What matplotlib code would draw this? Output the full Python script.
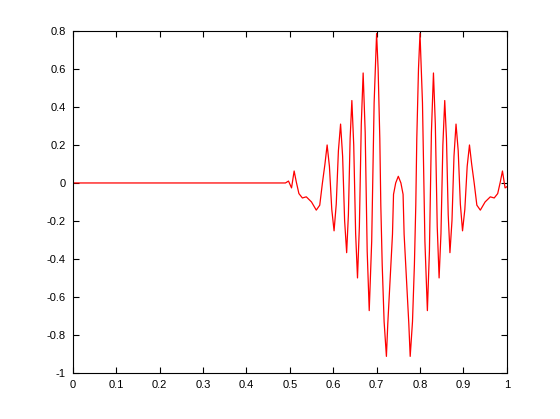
import matplotlib
matplotlib.use('Agg')
import matplotlib.pyplot as plt

# signal: flat start, small wiggle near 0.5,
# then the burst (left half, centre lobe, right half)
t = [0.0, 0.002, 0.2, 0.3, 0.49, 0.497, 0.504, 0.51, 0.515, 0.521, 0.529,
     0.538, 0.55, 0.561, 0.569, 0.575, 0.581,
     0.586, 0.5913, 0.5967, 0.602, 0.607, 0.612, 0.617, 0.6217, 0.6263,
     0.631, 0.635, 0.639, 0.643, 0.6473, 0.6517, 0.656, 0.6603, 0.6647,
     0.669, 0.6737, 0.6783, 0.683, 0.6887, 0.6943, 0.700, 0.7035, 0.7074,
     0.7097, 0.7129, 0.7173, 0.7226, 0.7258, 0.7311, 0.7366, 0.739, 0.744,
     0.75,
     0.756, 0.761, 0.7634, 0.7689, 0.7742, 0.7774, 0.7827, 0.7871, 0.7903,
     0.7926, 0.7965, 0.800, 0.8057, 0.8113, 0.817, 0.8217, 0.8263, 0.831,
     0.8353, 0.8397, 0.844, 0.8483, 0.8527, 0.857, 0.861, 0.865, 0.869,
     0.8737, 0.8783, 0.883, 0.888, 0.893, 0.898, 0.9033, 0.9087, 0.914,
     0.919, 0.925, 0.931, 0.939, 0.95, 0.962, 0.971, 0.979, 0.985, 0.990,
     0.996, 1.0]
signal = [0.01, 0.0, 0.0, 0.0, 0.0, 0.01, -0.026, 0.063, 0.005, -0.056, -0.079,
          -0.073, -0.10, -0.143, -0.117, -0.003, 0.10,
          0.20, 0.087, -0.139, -0.252, -0.112, 0.170, 0.31, 0.141, -0.198,
          -0.367, -0.167, 0.234, 0.434, 0.20, -0.267, -0.50, -0.23, 0.309,
          0.579, 0.266, -0.359, -0.672, -0.307, 0.422, 0.787, 0.60, 0.233,
          -0.117, -0.43, -0.73, -0.913, -0.74, -0.51, -0.27, -0.06, 0.0,
          0.035,
          0.0, -0.06, -0.27, -0.51, -0.74, -0.913, -0.73, -0.43, -0.117,
          0.233, 0.60, 0.787, 0.422, -0.307, -0.672, -0.359, 0.266, 0.579,
          0.309, -0.23, -0.50, -0.267, 0.20, 0.434, 0.234, -0.167, -0.367,
          -0.198, 0.141, 0.31, 0.170, -0.112, -0.252, -0.139, 0.087, 0.20,
          0.10, -0.003, -0.117, -0.143, -0.10, -0.073, -0.079, -0.056, 0.005, 0.063,
          -0.026, -0.02]

xticks = [0, 0.1, 0.2, 0.3, 0.4, 0.5, 0.6, 0.7, 0.8, 0.9, 1]
xlabels = ['0', '0.1', '0.2', '0.3', '0.4', '0.5', '0.6', '0.7', '0.8', '0.9', '1']
yticks = [-1, -0.8, -0.6, -0.4, -0.2, 0, 0.2, 0.4, 0.6, 0.8]
ylabels = ['-1', '-0.8', '-0.6', '-0.4', '-0.2', '0', '0.2', '0.4', '0.6', '0.8']

plt.rcParams['font.family'] = ['Liberation Sans', 'DejaVu Sans']

fig = plt.figure(figsize=(5.6, 4.19), dpi=100)
ax = fig.add_axes([0.130, 0.110, 0.775, 0.816])
ax.plot(t, signal, color='red', linewidth=0.9)

ax.set_xlim(0, 1)
ax.set_ylim(-1, 0.8)
ax.set_xticks(xticks)
ax.set_xticklabels(xlabels)
ax.set_yticks(yticks)
ax.set_yticklabels(ylabels)
ax.tick_params(direction='in', length=4, width=0.8, labelsize=8,
               top=True, right=True, pad=5)
for s in ax.spines.values():
    s.set_linewidth(0.8)

fig.savefig('out.png', dpi=100)
